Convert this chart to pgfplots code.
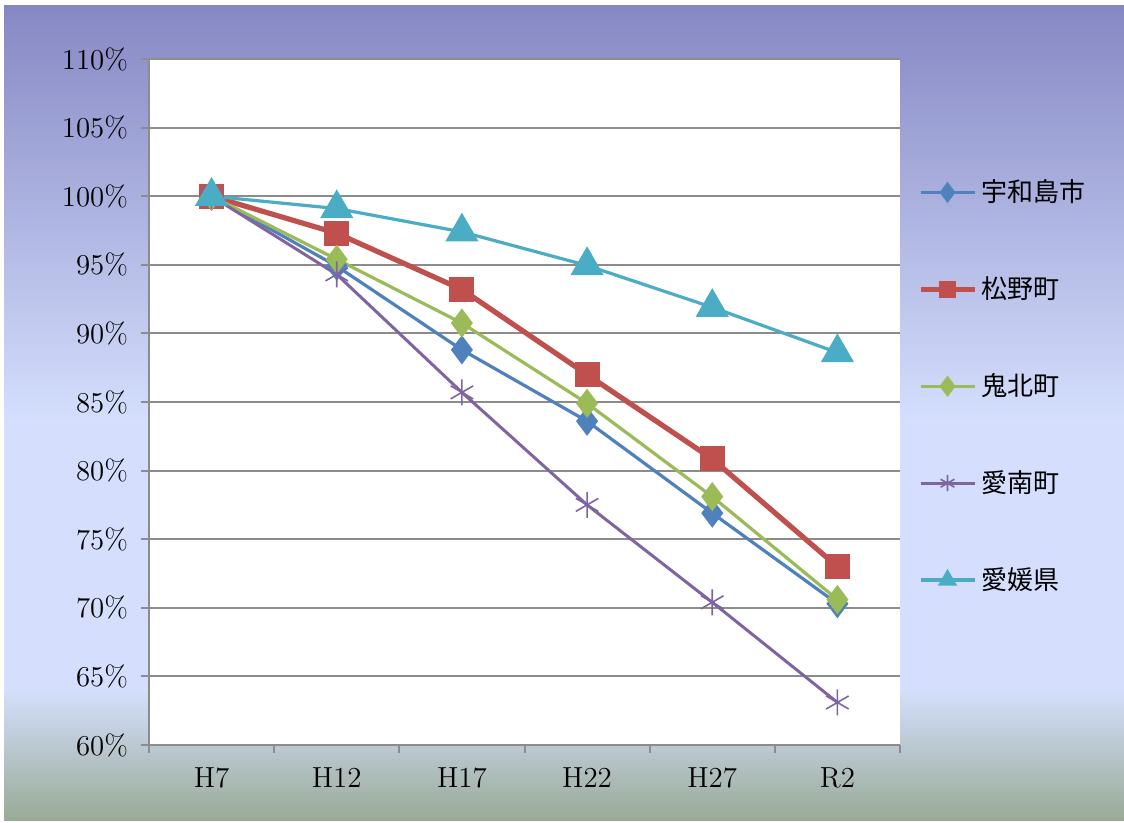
\documentclass[border=0pt]{standalone}
\usepackage{pgfplots}
\pgfplotsset{compat=1.18}
\usepackage{fontspec}
\newfontfamily\cjk{Noto Sans CJK JP}
\definecolor{cBlue}{HTML}{4F81BD}
\definecolor{cRed}{HTML}{C0504D}
\definecolor{cGreen}{HTML}{9BBB59}
\definecolor{cPurple}{HTML}{8064A2}
\definecolor{cCyan}{HTML}{4BACC6}
\definecolor{bgTop}{HTML}{8688C4}
\definecolor{bgMid}{HTML}{D5DFFD}
\definecolor{bgBot}{HTML}{98AA96}
\definecolor{gridgray}{HTML}{8C8C8C}

\begin{document}
\begin{tikzpicture}[x=1pt,y=1pt]
\useasboundingbox (0,0) rectangle (562,411.5);
% background
\fill[white] (0,0) rectangle (562,411.5);
\shade[top color=bgTop,bottom color=bgMid] (2,200) rectangle (562,408.5);
\fill[bgMid] (2,66.5) rectangle (562,200.5);
\shade[top color=bgMid,bottom color=bgBot] (2,1) rectangle (562,66.5);

\begin{axis}[
    at={(74.5pt,39pt)}, anchor=south west,
    width=375.5pt, height=343pt, scale only axis,
    xmin=-0.5, xmax=5.5,
    ymin=60, ymax=110,
    ytick={60,65,...,110},
    yticklabel={\pgfmathprintnumber{\tick}\%},
    xtick={0,1,2,3,4,5},
    xticklabels={H7,H12,H17,H22,H27,R2},
    minor xtick={-0.5,0.5,1.5,2.5,3.5,4.5,5.5},
    major x tick style={draw=none},
    minor x tick style={draw=gridgray, line width=1pt},
    minor tick length=4pt,
    y tick style={draw=gridgray, line width=1pt},
    major tick length=4pt,
    tick align=outside,
    axis x line*=bottom, axis y line*=left,
    axis line style={draw=gridgray, line width=1pt, -},
    ymajorgrids,
    major grid style={draw=gridgray, line width=1pt},
    axis background/.style={fill=white},
    ticklabel style={font=\fontsize{14.5}{16}\selectfont},
    yticklabel style={xshift=-3pt},
    xticklabel style={yshift=-4pt},
    legend style={at={(1.018,0.523)}, anchor=west, draw=none, fill=none,
        font=\fontsize{13}{15}\selectfont\cjk, row sep=32pt,
        cells={anchor=west}, inner xsep=2pt},
    legend image code/.code={
        \draw[mark repeat=2,mark phase=2,#1,mark size=4pt]
        plot coordinates {(0pt,0pt)(13.5pt,0pt)(27pt,0pt)};},
    clip=false,
]
\addplot[cBlue, line width=1.6pt, mark=diamond*, mark size=6pt,
    mark options={solid, fill=cBlue, draw=cBlue}]
    coordinates {(0,100) (1,94.9) (2,88.8) (3,83.6) (4,76.9) (5,70.3)};
\addlegendentry{宇和島市}
\addplot[cRed, line width=2.6pt, mark=square*, mark size=6pt,
    mark options={solid, fill=cRed, draw=cRed, line width=0.5pt}]
    coordinates {(0,100) (1,97.3) (2,93.2) (3,87.0) (4,80.85) (5,73.0)};
\addlegendentry{松野町}
\addplot[cGreen, line width=1.6pt, mark=diamond*, mark size=6pt,
    mark options={solid, fill=cGreen, draw=cGreen}]
    coordinates {(0,100) (1,95.4) (2,90.75) (3,84.9) (4,78.1) (5,70.6)};
\addlegendentry{鬼北町}
\addplot[cPurple, line width=1.5pt, mark=asterisk, mark size=6.5pt,
    mark options={solid, draw=cPurple, line width=0.8pt}]
    coordinates {(0,100) (1,94.3) (2,85.7) (3,77.5) (4,70.4) (5,63.1)};
\addlegendentry{愛南町}
\addplot[cCyan, line width=1.6pt, mark=triangle*, mark size=8pt,
    mark options={solid, fill=cCyan, draw=cCyan}]
    coordinates {(0,100) (1,99.1) (2,97.4) (3,94.95) (4,91.9) (5,88.6)};
\addlegendentry{愛媛県}
\end{axis}
\end{tikzpicture}
\end{document}
